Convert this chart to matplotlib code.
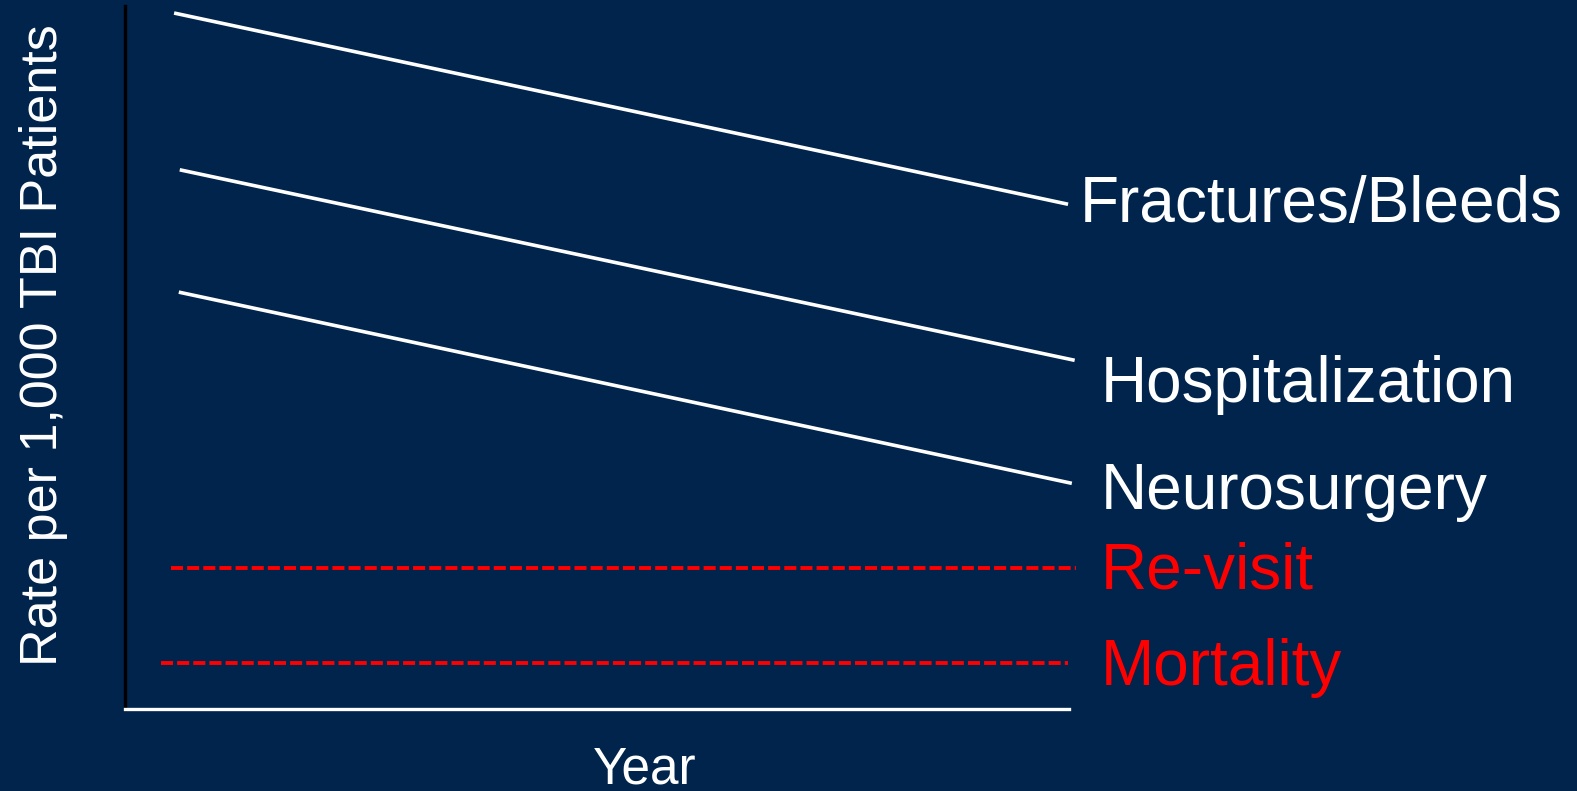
import matplotlib.pyplot as plt

plt.rcParams['font.family'] = ['Liberation Sans', 'DejaVu Sans']

# 各指标随年份变化的趋势（示意，每千名TBI患者的比率）
series = ['Fractures/Bleeds', 'Hospitalization', 'Neurosurgery', 'Re-visit', 'Mortality']
x_start = [5.2, 5.8, 5.7, 4.9, 3.8]
x_end = [99.9, 100.6, 100.3, 100.7, 99.9]
y_start = [99.0, 76.7, 59.3, 20.1, 6.5]
y_end = [71.8, 49.6, 32.1, 20.1, 6.5]
label_y = [71.7, 46.1, 30.8, 19.5, 5.9]
colors = ['white', 'white', 'white', '#FF0000', '#FF0000']
dashed = [False, False, False, True, True]

bg = '#00244C'
W, H = 1577, 791
fig = plt.figure(figsize=(W / 100, H / 100), dpi=100, facecolor=bg)
ax = fig.add_axes([125 / W, (H - 709) / H, 944 / W, 703 / H])
ax.set_facecolor(bg)
ax.set_xlim(0, 100)
ax.set_ylim(0, 100)

for i, name in enumerate(series):
    line, = ax.plot([x_start[i], x_end[i]], [y_start[i], y_end[i]],
                    color=colors[i], lw=2.6 if not dashed[i] else 2.8,
                    solid_capstyle='butt', clip_on=False)
    if dashed[i]:
        line.set_dashes((3.1, 1.05))
    lx = 101.1 if i == 0 else 103.4
    ax.text(lx, label_y[i], name, color=colors[i], fontsize=46,
            va='center', ha='left', clip_on=False)

# 坐标轴：左侧黑线，底部白线，不显示刻度
for s in ['top', 'right']:
    ax.spines[s].set_visible(False)
ax.spines['left'].set_color('black')
ax.spines['left'].set_linewidth(2.4)
ax.spines['bottom'].set_color('white')
ax.spines['bottom'].set_linewidth(2.4)
ax.set_xticks([])
ax.set_yticks([])

fig.text(44 / W, 1 - 345 / H, 'Rate per 1,000 TBI Patients', color='white',
         fontsize=37.5, rotation=90, ha='center', va='center')
fig.text(645 / W, 1 - 770 / H, 'Year', color='white', fontsize=37,
         ha='center', va='center')

fig.savefig('out.png', dpi=100, facecolor=bg)
